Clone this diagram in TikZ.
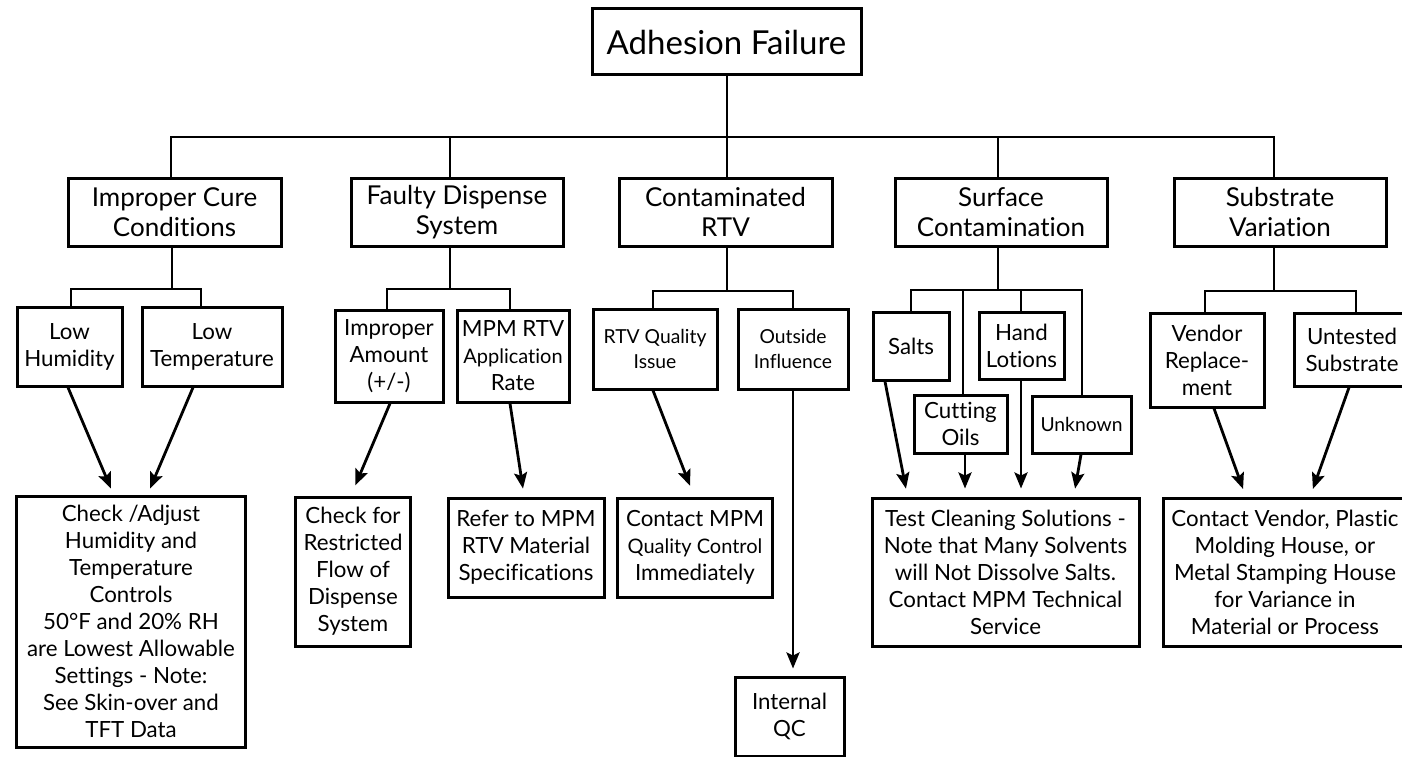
\documentclass[tikz,border=0pt]{standalone}
\usepackage{fontspec}
\setmainfont{Lato}[Ligatures=NoCommon]
\usetikzlibrary{arrows.meta}
\newcommand{\smtxt}[1]{{\fontsize{20}{26}\selectfont #1}}
\begin{document}
\begin{tikzpicture}[x=1pt,y=-1pt,
  box/.style={draw, line width=3pt, inner sep=0pt, align=center, fill=white},
  ln/.style={line width=2.8pt},
  arr/.style={line width=2.8pt, -{Stealth[length=16pt,width=13pt,inset=3pt]}},
  tzero/.style={font=\fontsize{33}{38}\selectfont},
  tone/.style={font=\fontsize{26}{30}\selectfont},
  ttwo/.style={font=\fontsize{22.3}{27}\selectfont},
  tsm/.style={font=\fontsize{19.3}{25}\selectfont}]
\useasboundingbox (0,0) rectangle (1402,757);

% ---- root and level 1
\node[box,tzero,minimum width=269pt,minimum height=66pt] (root) at (726.5,42) {Adhesion Failure};
\node[box,tone,minimum width=213pt,minimum height=68pt] (cure) at (174.5,212) {Improper Cure\\Conditions};
\node[box,tone,minimum width=212pt,minimum height=68pt] (disp) at (457,212) {Faulty Dispense\\System};
\node[box,tone,minimum width=213pt,minimum height=68pt] (crtv) at (725.5,212) {Contaminated\\RTV};
\node[box,tone,minimum width=212pt,minimum height=68pt] (surf) at (1001,212) {Surface\\Contamination};
\node[box,tone,minimum width=212pt,minimum height=68pt] (subs) at (1280,212) {Substrate\\Variation};

% ---- level 2
\node[box,ttwo,minimum width=105pt,minimum height=79pt] (lowhum) at (69.5,346.5) {Low\\Humidity};
\node[box,ttwo,minimum width=140pt,minimum height=79pt] (lowtemp) at (212,346.5) {Low\\Temperature};
\node[box,ttwo,minimum width=108pt,minimum height=92pt] (impamt) at (389,356) {Improper\\Amount\\(+/-)};
\node[box,ttwo,minimum width=112pt,minimum height=92pt] (mpm) at (513,356) {MPM RTV\\\smtxt{Application}\\Rate};
\node[box,tsm,minimum width=124pt,minimum height=80pt] (rtvq) at (655,349) {RTV Quality\\Issue};
\node[box,tsm,minimum width=110pt,minimum height=80pt] (outside) at (793,349) {Outside\\Influence};
\node[box,ttwo,minimum width=76pt,minimum height=68pt] (salts) at (911,346) {Salts};
\node[box,ttwo,minimum width=85pt,minimum height=67pt] (hand) at (1021.5,345.5) {Hand\\Lotions};
\node[box,ttwo,minimum width=93pt,minimum height=58pt] (cutting) at (960.5,424) {Cutting\\Oils};
\node[box,tsm,minimum width=99pt,minimum height=57pt] (unknown) at (1081.5,424.5) {Unknown};
\node[box,ttwo,minimum width=114pt,minimum height=94pt] (vendor) at (1207,360) {Vendor\\Replace-\\ment};
\node[box,ttwo,minimum width=116pt,minimum height=73pt] (untested) at (1352,349.5) {Untested\\Substrate};

% ---- level 3
\node[box,ttwo,minimum width=229pt,minimum height=251pt] (check) at (131,621.5)
  {Check /Adjust\\Humidity and\\Temperature\\Controls\\50°F and 20\% RH\\are Lowest Allowable\\Settings - Note:\\See Skin-over and\\TFT Data};
\node[box,ttwo,minimum width=115.5pt,minimum height=149pt] (checkfor) at (353,571.5)
  {Check for\\Restricted\\Flow of\\Dispense\\System};
\node[box,ttwo,minimum width=156pt,minimum height=99pt] (refer) at (526,547.5)
  {Refer to MPM\\RTV Material\\Specifications};
\node[box,ttwo,minimum width=155.5pt,minimum height=99pt] (contact) at (695,547.5)
  {Contact MPM\\\smtxt{Quality Control}\\Immediately};
\node[box,ttwo,minimum width=109pt,minimum height=79pt] (internal) at (789.5,716.5) {Internal\\QC};
\node[box,ttwo,minimum width=267pt,minimum height=148pt] (test) at (1005.5,572)
  {Test Cleaning Solutions -\\Note that Many Solvents\\will Not Dissolve Salts.\\Contact MPM Technical\\Service};
\node[box,ttwo,minimum width=244pt,minimum height=148pt] (cvendor) at (1285,572)
  {Contact Vendor, Plastic\\Molding House, or\\Metal Stamping House\\for Variance in\\Material or Process};

% ---- main bus
\coordinate (j1) at (171,137);
\coordinate (j2) at (450,137);
\coordinate (j3) at (727,137);
\coordinate (j4) at (998,137);
\coordinate (j5) at (1274,137);
\draw[ln] (root.south -| j3) -- (j3);
\draw[ln] (j1 |- cure.north) -- (j1) -- (j5) -- (j5 |- subs.north);
\draw[ln] (j2) -- (j2 |- disp.north);
\draw[ln] (j3) -- (j3 |- crtv.north);
\draw[ln] (j4) -- (j4 |- surf.north);

% ---- cure group
\coordinate (cp) at (172,289);
\coordinate (ca) at (71,289);
\coordinate (cb) at (201,289);
\draw[ln] (cp |- cure.south) -- (cp);
\draw[ln] (ca |- lowhum.north) -- (ca) -- (cb) -- (cb |- lowtemp.north);

% ---- dispense group
\coordinate (dp) at (450,289);
\coordinate (da) at (387,289);
\coordinate (db) at (510,289);
\draw[ln] (dp |- disp.south) -- (dp);
\draw[ln] (da |- impamt.north) -- (da) -- (db) -- (db |- mpm.north);

% ---- contaminated RTV group
\coordinate (rp) at (727,291);
\coordinate (ra) at (653,291);
\coordinate (rb) at (793,291);
\draw[ln] (rp |- crtv.south) -- (rp);
\draw[ln] (ra |- rtvq.north) -- (ra) -- (rb) -- (rb |- outside.north);

% ---- surface group
\coordinate (sp) at (998,290);
\coordinate (sa) at (911,290);
\coordinate (sb) at (963,290);
\coordinate (sc) at (1021,290);
\coordinate (sd) at (1082,290);
\draw[ln] (sp |- surf.south) -- (sp);
\draw[ln] (sa |- salts.north) -- (sa) -- (sd) -- (sd |- unknown.north);
\draw[ln] (sb) -- (sb |- cutting.north);
\draw[ln] (sc) -- (sc |- hand.north);

% ---- substrate group
\coordinate (up) at (1274,291);
\coordinate (ua) at (1205,291);
\coordinate (ub) at (1356,291);
\draw[ln] (up |- subs.south) -- (up);
\draw[ln] (ua |- vendor.north) -- (ua) -- (ub) -- (ub |- untested.north);

% ---- arrows
\draw[arr,shorten >=6.5pt] ([xshift=-1.5pt]lowhum.south) -- ([xshift=-17.5pt]check.north);
\draw[arr,shorten >=6.5pt] ([xshift=-19pt]lowtemp.south) -- ([xshift=16.5pt]check.north);
\draw[arr,shorten >=11pt] ([xshift=1pt]impamt.south) -- ([xshift=-2pt]checkfor.north);
\draw[arr,shorten >=8pt] ([xshift=-3pt]mpm.south) -- ([xshift=-1.8pt]refer.north);
\draw[arr,shorten >=11.5pt] ([xshift=-2pt]rtvq.south) -- ([xshift=-0.8pt]contact.north);
\draw[arr,shorten >=7pt] (outside.south) -- (outside.south |- internal.north);
\draw[arr,shorten >=8pt] ([xshift=-26pt]salts.south) -- ([xshift=-98pt]test.north);
\draw[arr,shorten >=8pt] ([xshift=4.5pt]cutting.south) -- ([xshift=-40.5pt]test.north);
\draw[arr,shorten >=8pt] ([xshift=-0.5pt]hand.south) -- ([xshift=15.5pt]test.north);
\draw[arr,shorten >=8pt] ([xshift=-0.5pt]unknown.south) -- ([xshift=68.2pt]test.north);
\draw[arr,shorten >=8pt] ([xshift=7pt]vendor.south) -- ([xshift=-39.2pt]cvendor.north);
\draw[arr,shorten >=8pt] ([xshift=-3pt]untested.south) -- ([xshift=25.2pt]cvendor.north);
\end{tikzpicture}
\end{document}
